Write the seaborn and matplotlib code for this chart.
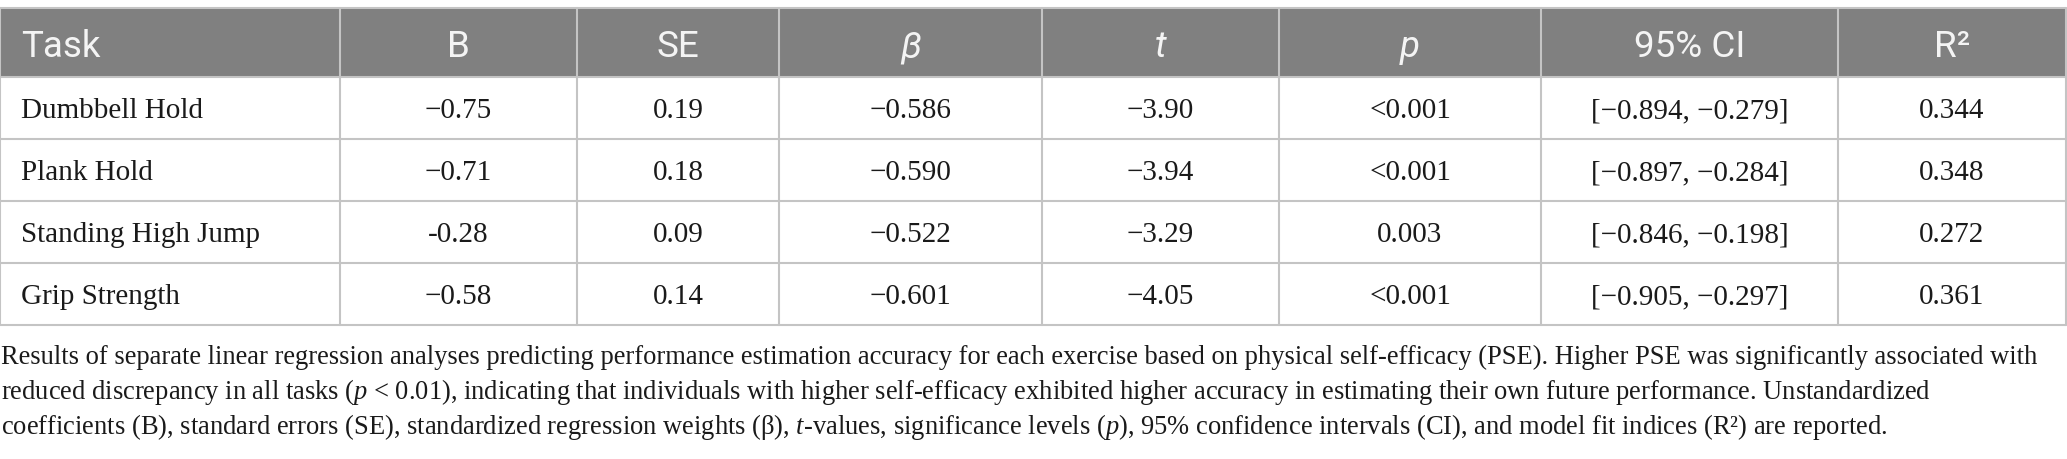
import matplotlib
matplotlib.use("Agg")
import matplotlib.pyplot as plt
from matplotlib import font_manager
from matplotlib.patches import Rectangle
import pandas as pd
import seaborn as sns

# table content
tasks = ["Dumbbell Hold", "Plank Hold", "Standing High Jump", "Grip Strength"]
b_vals = ["\u22120.75", "\u22120.71", "-0.28", "\u22120.58"]
se_vals = ["0.19", "0.18", "0.09", "0.14"]
beta_vals = ["\u22120.586", "\u22120.590", "\u22120.522", "\u22120.601"]
t_vals = ["\u22123.90", "\u22123.94", "\u22123.29", "\u22124.05"]
p_vals = ["<0.001", "<0.001", "0.003", "<0.001"]
ci_vals = ["[\u22120.894, \u22120.279]", "[\u22120.897, \u22120.284]",
           "[\u22120.846, \u22120.198]", "[\u22120.905, \u22120.297]"]
r2_vals = ["0.344", "0.348", "0.272", "0.361"]

headers = ["Task", "B", "SE", "\u03b2", "t", "p", "95% CI", "R\u00b2"]
italic_headers = ["\u03b2", "t", "p"]

caption_lines = [
    "Results of separate linear regression analyses predicting performance estimation accuracy for each exercise based on physical self-efficacy (PSE). Higher PSE was significantly associated with",
    "reduced discrepancy in all tasks ($p$ < 0.01), indicating that individuals with higher self-efficacy exhibited higher accuracy in estimating their own future performance. Unstandardized",
    "coefficients (B), standard errors (SE), standardized regression weights (\u03b2), $t$-values, significance levels ($p$), 95% confidence intervals (CI), and model fit indices (R\u00b2) are reported.",
]

df = pd.DataFrame({
    "Task": tasks, "B": b_vals, "SE": se_vals, "\u03b2": beta_vals, "t": t_vals,
    "p": p_vals, "95% CI": ci_vals, "R\u00b2": r2_vals,
})

# layout (pixels)
W, H = 2067, 459
col_edges = [0, 340, 577, 779, 1042, 1279, 1541, 1838, 2066]
head_top, head_bot = 8, 77
row_h = 62
pad_left = 21
header_gray = "#808080"
line_gray = "#c4c4c4"
text_dark = "#1a1a1a"

sns.set_theme(style="white")
plt.rcParams["mathtext.fontset"] = "custom"
plt.rcParams["mathtext.rm"] = "Liberation Serif"
plt.rcParams["mathtext.it"] = "Liberation Serif:italic"


def pick_font(names):
    for n in names:
        try:
            font_manager.findfont(font_manager.FontProperties(family=n),
                                  fallback_to_default=False)
            return n
        except ValueError:
            continue
    return "DejaVu Sans"


head_font = pick_font(["Liberation Sans Narrow", "Roboto", "Lato"])
body_font = "Liberation Serif"

fig = plt.figure(figsize=(W / 100, H / 100), dpi=100)
ax = fig.add_axes([0, 0, 1, 1])
ax.set_xlim(0, W)
ax.set_ylim(H, 0)
ax.axis("off")
renderer = fig.canvas.get_renderer()


def fit_width(txt, target, base=20, **kw):
    t = ax.text(0, 0, txt, fontsize=base, **kw)
    w = t.get_window_extent(renderer).width
    t.remove()
    return base * target / w


# header: cap height about 27 px (cap ~0.71 em); body and caption fitted by width
head_size = 26.5
body_size = fit_width("Dumbbell Hold", 182, family=body_font)
cap_size = fit_width(caption_lines[0], 2040, family=body_font)

# header band
ax.add_patch(Rectangle((col_edges[0], head_top), col_edges[-1] - col_edges[0],
                       head_bot - head_top, facecolor=header_gray, edgecolor="none"))

n_rows = len(df)
table_bot = head_bot + n_rows * row_h

# grid lines
ax.plot([col_edges[0], col_edges[-1]], [head_top, head_top], color=line_gray, lw=1.5)
for i in range(n_rows + 1):
    y = head_bot + i * row_h
    ax.plot([col_edges[0], col_edges[-1]], [y, y], color=line_gray, lw=1.5)
for x in col_edges:
    ax.plot([x, x], [head_top, table_bot], color=line_gray, lw=1.5)

# header text
y_head = (head_top + head_bot) / 2 + 14.5
for j, name in enumerate(headers):
    style = "italic" if name in italic_headers else "normal"
    if j == 0:
        x, ha = col_edges[0] + pad_left, "left"
    else:
        x, ha = (col_edges[j] + col_edges[j + 1]) / 2, "center"
    ax.text(x, y_head, name, ha=ha, va="baseline", family=head_font,
            fontsize=head_size, color="#f4f4f4", fontstyle=style)

# body text
for i, row in enumerate(df.itertuples(index=False)):
    y = head_bot + i * row_h + row_h / 2 + 10
    for j, val in enumerate(row):
        if j == 0:
            x, ha = col_edges[0] + pad_left, "left"
        else:
            x, ha = (col_edges[j] + col_edges[j + 1]) / 2, "center"
        ax.text(x, y, val, ha=ha, va="baseline", family=body_font,
                fontsize=body_size, color=text_dark)

# caption
cap_base = [364, 399, 434]
for line, yb in zip(caption_lines, cap_base):
    ax.text(1, yb, line, ha="left", va="baseline", family=body_font,
            fontsize=cap_size, color=text_dark)

fig.savefig("out.png", dpi=100, facecolor="white")
